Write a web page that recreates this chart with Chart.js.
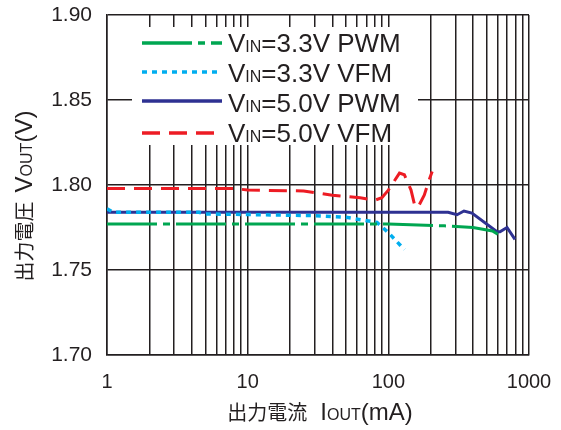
<!DOCTYPE html>
<html>
<head>
<meta charset="utf-8">
<script src="https://cdn.jsdelivr.net/npm/chart.js@4/dist/chart.umd.min.js"></script>
<style>
  html, body { margin: 0; padding: 0; background: #fff; }
  #wrap { width: 561px; height: 430px; }
</style>
</head>
<body>
<div id="wrap"><canvas id="myChart" width="561" height="430"></canvas></div>
<script>
// output current (mA) / output voltage (V)

var greenX = [1, 10, 100, 250, 400, 550, 600];
var greenY = [1.777, 1.777, 1.777, 1.776, 1.775, 1.773, 1.771];

var lightX = [1, 1.1, 4.5, 5, 30, 50, 70, 83, 100, 130];
var lightY = [1.786, 1.784, 1.784, 1.783, 1.782, 1.781, 1.779, 1.778, 1.772, 1.762];

var navyX = [1, 10, 100, 266, 308, 345, 393, 592, 622, 698, 795];
var navyY = [1.784, 1.784, 1.784, 1.784, 1.7825, 1.7847, 1.7835, 1.7725, 1.7725, 1.775, 1.768];

var redX = [1, 8, 10, 25, 40, 63, 80, 90, 100, 120, 130, 145, 155, 165, 180, 195, 205];
var redY = [1.798, 1.798, 1.797, 1.7965, 1.794, 1.7925, 1.791, 1.7925, 1.797, 1.807, 1.806, 1.797, 1.787, 1.788, 1.794, 1.803, 1.808];

var yTicks = [1.70, 1.75, 1.80, 1.85, 1.90];
var xLabels = [1, 10, 100, 1000];

var seriesNames = [
  ['V', 'IN', '=3.3V PWM'],
  ['V', 'IN', '=3.3V VFM'],
  ['V', 'IN', '=5.0V PWM'],
  ['V', 'IN', '=5.0V VFM']
];

var colors = ['#00a651', '#00aeef', '#2e3192', '#ed1c24'];
var dashes = [[50, 6, 7, 6], [5, 5], [], [18, 9]];

function pts(xs, ys) {
  return xs.map(function (x, i) { return { x: x, y: ys[i] }; });
}

var LATIN = '"Liberation Sans", Arial, sans-serif';
var CJK = '"Noto Sans CJK JP", sans-serif';
var gridColor = '#231f20';

// draw text made of pieces with different font sizes on one baseline
function richWidth(ctx, parts) {
  var w = 0;
  parts.forEach(function (p) { ctx.font = p.f; w += ctx.measureText(p.t).width + (p.gap || 0); });
  return w;
}
function drawRich(ctx, parts, x, y) {
  parts.forEach(function (p) {
    ctx.font = p.f;
    ctx.fillText(p.t, x, y);
    x += ctx.measureText(p.t).width + (p.gap || 0);
  });
}

var overlay = {
  id: 'overlay',
  afterDatasetsDraw: function (chart) {
    var ctx = chart.ctx;
    var area = chart.chartArea;
    ctx.save();

    // legend box
    ctx.fillStyle = '#fff';
    ctx.fillRect(132, 27, 286, 118);
    var lineY = [43, 72, 101, 133];
    var baseY = [52, 82, 112, 142];
    for (var i = 0; i < 4; i++) {
      ctx.strokeStyle = colors[i];
      ctx.lineWidth = 3.5;
      ctx.setLineDash(dashes[i]);
      ctx.beginPath();
      ctx.moveTo(142, lineY[i]);
      ctx.lineTo(222, lineY[i]);
      ctx.stroke();
      ctx.setLineDash([]);
      ctx.fillStyle = '#231f20';
      ctx.textBaseline = 'alphabetic';
      var n = seriesNames[i];
      drawRich(ctx, [
        { t: n[0], f: '26px ' + LATIN },
        { t: n[1], f: '16px ' + LATIN },
        { t: n[2], f: '26px ' + LATIN }
      ], 228, baseY[i]);
    }

    // axis titles
    ctx.fillStyle = '#231f20';
    var xt = [
      { t: '出力電流', f: '20px ' + CJK, gap: 13 },
      { t: 'I', f: '24px ' + LATIN },
      { t: 'OUT', f: '16px ' + LATIN },
      { t: '(mA)', f: '24px ' + LATIN }
    ];
    var cx = (area.left + area.right) / 2 + 2;
    drawRich(ctx, xt, cx - richWidth(ctx, xt) / 2, 420);

    var yt = [
      { t: '出力電圧', f: '20px ' + CJK, gap: 9 },
      { t: 'V', f: '24px ' + LATIN },
      { t: 'OUT', f: '16px ' + LATIN },
      { t: '(V)', f: '24px ' + LATIN }
    ];
    ctx.translate(32, 196);
    ctx.rotate(-Math.PI / 2);
    drawRich(ctx, yt, -richWidth(ctx, yt) / 2, 0);
    ctx.restore();
  }
};

var ctx = document.getElementById('myChart');

var myChart = new Chart(ctx, {
  type: 'line',
  data: {
    datasets: [
      { label: 'VIN=3.3V PWM', data: pts(greenX, greenY) },
      { label: 'VIN=3.3V VFM', data: pts(lightX, lightY) },
      { label: 'VIN=5.0V PWM', data: pts(navyX, navyY) },
      { label: 'VIN=5.0V VFM', data: pts(redX, redY) }
    ].map(function (d, i) {
      d.borderColor = colors[i];
      d.backgroundColor = colors[i];
      d.borderDash = dashes[i];
      d.borderWidth = i === 1 ? 3.5 : 3;
      d.pointRadius = 0;
      d.tension = 0;
      d.fill = false;
      return d;
    })
  },
  options: {
    responsive: false,
    animation: false,
    devicePixelRatio: 1,
    layout: { padding: { top: 15, right: 32, left: 0, bottom: 0 } },
    plugins: {
      legend: { display: false },
      tooltip: { enabled: false }
    },
    scales: {
      x: {
        type: 'logarithmic',
        min: 1,
        max: 1000,
        afterBuildTicks: function (scale) {
          var t = [];
          for (var d = 1; d < 1000; d *= 10) {
            for (var k = 1; k < 10; k++) t.push({ value: k * d });
          }
          t.push({ value: 1000 });
          scale.ticks = t;
        },
        afterFit: function (scale) {
          scale.height = 75;
          scale.paddingLeft = 0;
          scale.paddingRight = 0;
        },
        grid: { color: gridColor, lineWidth: 1.5, drawTicks: false },
        border: { color: gridColor, width: 1.5 },
        ticks: {
          autoSkip: false,
          maxRotation: 0,
          padding: 15,
          color: '#231f20',
          font: { family: LATIN, size: 20 },
          callback: function (v) {
            return xLabels.indexOf(v) >= 0 ? String(v) : '';
          }
        }
      },
      y: {
        min: 1.70,
        max: 1.90,
        afterBuildTicks: function (scale) {
          scale.ticks = yTicks.map(function (v) { return { value: v }; });
        },
        afterFit: function (scale) {
          scale.width = 107;
          scale.paddingTop = 0;
          scale.paddingBottom = 0;
        },
        grid: { color: gridColor, lineWidth: 1.5, drawTicks: false },
        border: { color: gridColor, width: 1.5 },
        ticks: {
          padding: 15,
          color: '#231f20',
          font: { family: LATIN, size: 21 },
          callback: function (v) { return v.toFixed(2); }
        }
      }
    }
  },
  plugins: [overlay]
});
</script>
</body>
</html>
